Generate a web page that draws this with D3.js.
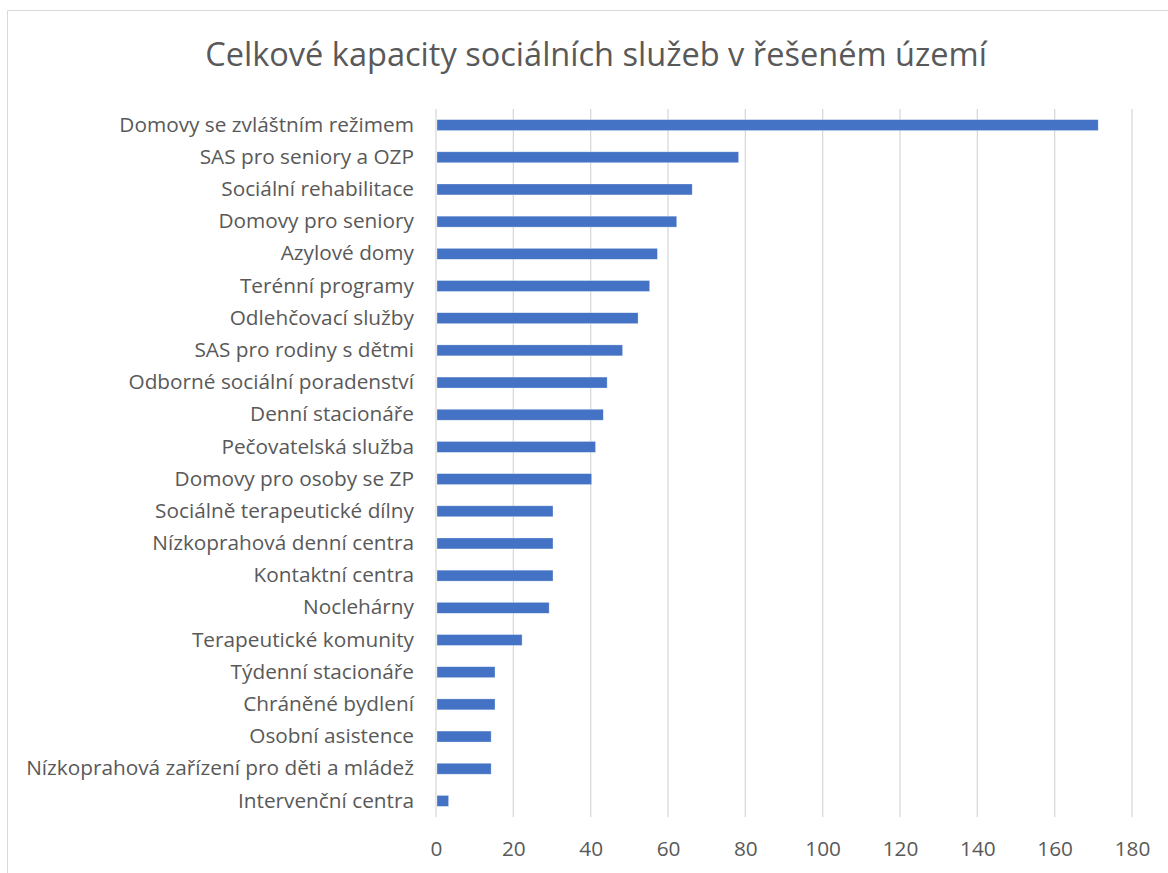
<!DOCTYPE html>
<html>
<head>
<meta charset="utf-8">
<script src="https://cdn.jsdelivr.net/npm/d3@7"></script>
<style>
  body { margin: 0; background: #fff; }
  text { font-family: 'Open Sans', sans-serif; fill: #595959; }
</style>
</head>
<body>
<div id="chart-area"></div>
<script>
var categories = ['Domovy se zvláštním režimem', 'SAS pro seniory a OZP', 'Sociální rehabilitace', 'Domovy pro seniory',
  'Azylové domy', 'Terénní programy', 'Odlehčovací služby', 'SAS pro rodiny s dětmi', 'Odborné sociální poradenství',
  'Denní stacionáře', 'Pečovatelská služba', 'Domovy pro osoby se ZP', 'Sociálně terapeutické dílny',
  'Nízkoprahová denní centra', 'Kontaktní centra', 'Noclehárny', 'Terapeutické komunity', 'Týdenní stacionáře',
  'Chráněné bydlení', 'Osobní asistence', 'Nízkoprahová zařízení pro děti a mládež', 'Intervenční centra']
var values = [171, 78, 66, 62, 57, 55, 52, 48, 44, 43, 41, 40, 30, 30, 30, 29, 22, 15, 15, 14, 14, 3]
var ticks = [0, 20, 40, 60, 80, 100, 120, 140, 160, 180]
var title = 'Celkové kapacity sociálních služeb v řešeném území'

var W = 1168, H = 873
var margin = { top: 109, left: 436, right: 36, bottom: 56 }
var height = H - margin.top - margin.bottom

var svg = d3.select('#chart-area').append('svg')
    .attr('width', W)
    .attr('height', H)

// chart frame (cropped on right and bottom)
svg.append('path')
    .attr('d', 'M7.5,' + H + ' V10.5 H' + W)
    .attr('fill', 'none')
    .attr('stroke', '#d9d9d9')
    .attr('stroke-width', 1)

var titleText = svg.append('text')
    .attr('x', 596)
    .attr('y', 66)
    .attr('text-anchor', 'middle')
    .attr('font-size', '30px')
    .text(title)
// fit title to width seen in the picture
var tw = titleText.node().getComputedTextLength()
titleText.attr('font-size', (30 * 782 / tw).toFixed(2) + 'px')

var g = svg.append('g').attr('transform', `translate(${margin.left}, ${margin.top})`)

var x = d3.scaleLinear().domain([0, 180]).range([0, 696])
var y = d3.scaleBand().domain(categories).range([0, height]).paddingInner(0.66).paddingOuter(0.33)

// gridlines
g.selectAll('.grid').data(ticks).enter()
  .append('line')
    .attr('class', 'grid')
    .attr('x1', d => x(d)).attr('x2', d => x(d))
    .attr('y1', 0).attr('y2', height)
    .attr('stroke', '#d9d9d9')
    .attr('stroke-width', 1.3)

g.selectAll('rect').data(values).enter()
  .append('rect')
    .attr('x', x(0) + 1)
    .attr('y', (d, i) => y(categories[i]))
    .attr('width', d => x(d) - x(0))
    .attr('height', y.bandwidth())
    .attr('fill', '#4472c4')
    .attr('stroke', '#ffffff')
    .attr('stroke-opacity', 0.5)
    .attr('stroke-width', 0.6)

// category labels
var yAxis = d3.axisLeft(y).tickSize(0).tickPadding(22)
var yLabels = g.append('g').call(yAxis)
  .call(a => a.select('.domain').remove())
  .selectAll('text')
    .attr('font-size', '18px')
    .style('font-family', "'Open Sans', sans-serif")
    .attr('fill', '#595959')

var longest = d3.max(yLabels.nodes(), n => n.getComputedTextLength())
var labelSize = (18 * 388 / longest).toFixed(2)
yLabels.attr('font-size', labelSize + 'px')

// value axis
var xAxis = d3.axisBottom(x).tickValues(ticks).tickSize(0).tickPadding(24)
g.append('g').attr('transform', `translate(0, ${height})`).call(xAxis)
  .call(a => a.select('.domain').remove())
  .selectAll('text')
    .attr('font-size', labelSize + 'px')
    .style('font-family', "'Open Sans', sans-serif")
    .attr('fill', '#595959')
</script>
</body>
</html>
